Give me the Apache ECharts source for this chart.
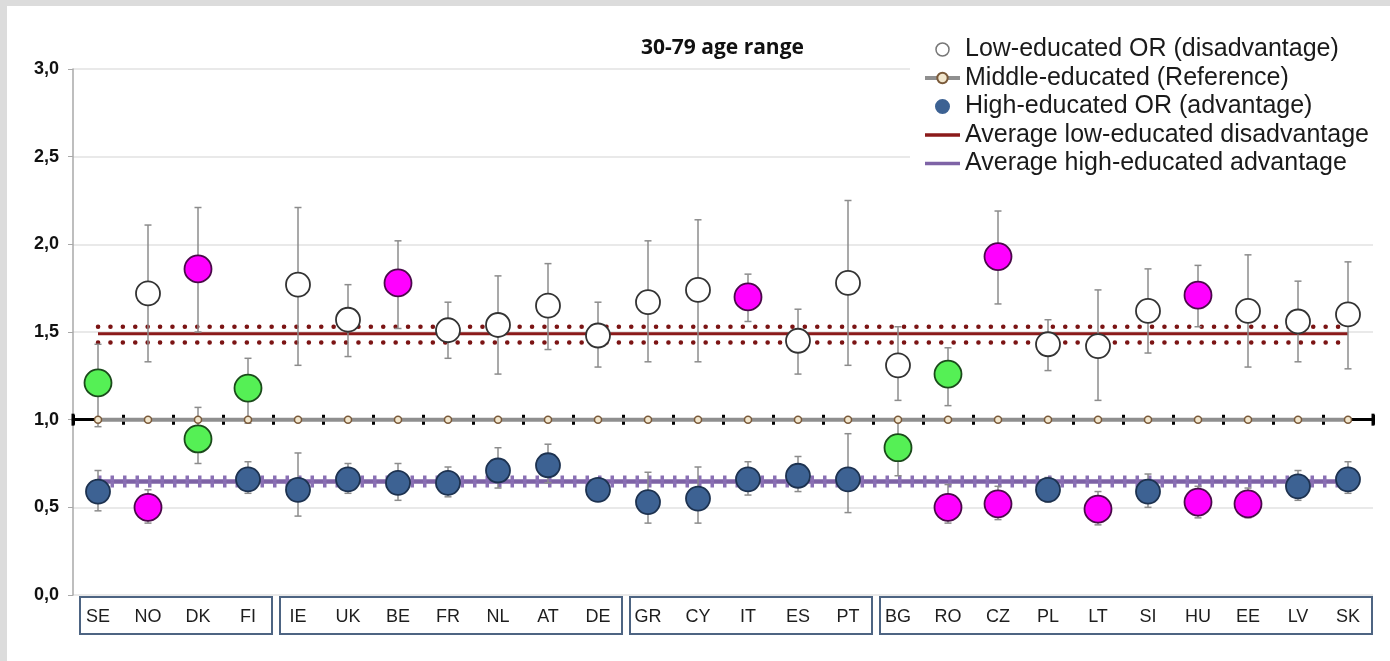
<!DOCTYPE html>
<html>
<head>
<meta charset="utf-8">
<script src="https://cdn.jsdelivr.net/npm/echarts@6/dist/echarts.min.js"></script>
<style>
html, body { margin: 0; padding: 0; background: #dcdcdc; }
#chart { position: absolute; left: 7px; top: 6px; width: 1383px; height: 655px; background: #fff; }
</style>
</head>
<body>
<div id="chart"></div>
<script>
const countries = ['SE', 'NO', 'DK', 'FI', 'IE', 'UK', 'BE', 'FR', 'NL', 'AT', 'DE', 'GR', 'CY', 'IT', 'ES', 'PT', 'BG', 'RO', 'CZ', 'PL', 'LT', 'SI', 'HU', 'EE', 'LV', 'SK']
// country blocks boxed under the axis: nordic, continental, southern, eastern
const groupSizes = [4, 7, 5, 10]

const lowOR = [1.21, 1.72, 1.86, 1.18, 1.77, 1.57, 1.78, 1.51, 1.54, 1.65, 1.48, 1.67, 1.74, 1.70, 1.45, 1.78, 1.31, 1.26, 1.93, 1.43, 1.42, 1.62, 1.71, 1.62, 1.56, 1.60]
const lowLo = [0.96, 1.33, 1.50, 0.98, 1.31, 1.36, 1.52, 1.35, 1.26, 1.40, 1.30, 1.33, 1.33, 1.56, 1.26, 1.31, 1.11, 1.08, 1.66, 1.28, 1.11, 1.38, 1.53, 1.30, 1.33, 1.29]
const lowHi = [1.43, 2.11, 2.21, 1.35, 2.21, 1.77, 2.02, 1.67, 1.82, 1.89, 1.67, 2.02, 2.14, 1.83, 1.63, 2.25, 1.53, 1.41, 2.19, 1.57, 1.74, 1.86, 1.88, 1.94, 1.79, 1.90]
// 'sig' = stands out from the average, 'ns' = not significant
const lowFlag = ['ns', '', 'sig', 'ns', '', '', 'sig', '', '', '', '', '', '', 'sig', '', '', '', 'ns', 'sig', '', '', '', 'sig', '', '', '']

const highOR = [0.59, 0.50, 0.89, 0.66, 0.60, 0.66, 0.64, 0.64, 0.71, 0.74, 0.60, 0.53, 0.55, 0.66, 0.68, 0.66, 0.84, 0.50, 0.52, 0.60, 0.49, 0.59, 0.53, 0.52, 0.62, 0.66]
const highLo = [0.48, 0.41, 0.75, 0.58, 0.45, 0.58, 0.54, 0.56, 0.61, 0.64, 0.55, 0.41, 0.41, 0.57, 0.59, 0.47, 0.68, 0.41, 0.43, 0.53, 0.40, 0.50, 0.44, 0.44, 0.54, 0.58]
const highHi = [0.71, 0.60, 1.07, 0.76, 0.81, 0.75, 0.75, 0.73, 0.84, 0.86, 0.66, 0.70, 0.73, 0.76, 0.79, 0.92, 1.00, 0.63, 0.62, 0.67, 0.59, 0.69, 0.62, 0.61, 0.71, 0.76]
const highFlag = ['', 'sig', 'ns', '', '', '', '', '', '', '', '', '', '', '', '', '', 'ns', 'sig', 'sig', '', 'sig', '', 'sig', 'sig', '', '']

const refOR = [1, 1, 1, 1, 1, 1, 1, 1, 1, 1, 1, 1, 1, 1, 1, 1, 1, 1, 1, 1, 1, 1, 1, 1, 1, 1]

const avgLow = 1.49
const avgLowCI = [1.44, 1.53]
const avgHigh = 0.647
const avgHighCI = [0.63, 0.664]

const yTicks = [0, 0.5, 1, 1.5, 2, 2.5, 3]

const chart = echarts.init(document.getElementById('chart'))

const FONT = 'Liberation Sans, Arial, sans-serif'
const SIG = { color: '#ff00ff', borderColor: '#4a0a4a' }
const NS = { color: '#55f055', borderColor: '#1b4a1b' }

function pointItem(v, flag) {
  if (flag === 'sig')
    return { value: v, symbolSize: 27, itemStyle: SIG }
  if (flag === 'ns')
    return { value: v, symbolSize: 27, itemStyle: NS }
  return v
}

function errorBar(params, api) {
  const top = api.coord([api.value(0), api.value(2)])
  const bot = api.coord([api.value(0), api.value(1)])
  const cap = 3.5
  const style = { stroke: '#8c8c8c', lineWidth: 1.5 }
  return {
    type: 'group',
    children: [
      { type: 'line', shape: { x1: top[0], y1: top[1], x2: bot[0], y2: bot[1] }, style },
      { type: 'line', shape: { x1: top[0] - cap, y1: top[1], x2: top[0] + cap, y2: top[1] }, style },
      { type: 'line', shape: { x1: bot[0] - cap, y1: bot[1], x2: bot[0] + cap, y2: bot[1] }, style },
    ],
  }
}

const first = countries[0]
const last = countries[countries.length - 1]
const flatLine = v => [[first, v], [last, v]]

chart.setOption({
  animation: false,
  title: {
    text: '30-79 age range',
    left: 634,
    top: 32,
    padding: 0,
    textStyle: { fontFamily: 'Open Sans', fontWeight: 'bold', fontSize: 21, color: '#111' },
  },
  legend: {
    left: 903,
    top: 25,
    orient: 'vertical',
    padding: [6, 30, 6, 13],
    backgroundColor: '#fff',
    itemWidth: 35,
    itemHeight: 13,
    itemGap: 3.5,
    selectedMode: false,
    textStyle: { fontFamily: FONT, fontSize: 25, lineHeight: 25, color: '#1a1a1a' },
    data: [
      { name: 'Low-educated OR (disadvantage)', itemStyle: { borderColor: '#777', borderWidth: 1.5 } },
      { name: 'Middle-educated (Reference)', lineStyle: { width: 4 } },
      { name: 'High-educated OR (advantage)', itemStyle: { borderColor: '#3d6293' } },
      { name: 'Average low-educated disadvantage', itemStyle: { opacity: 0 }, lineStyle: { width: 3.5 } },
      { name: 'Average high-educated advantage', itemStyle: { opacity: 0 }, lineStyle: { width: 3.5 } },
    ],
  },
  grid: { left: 66, right: 17, top: 63, bottom: 66 },
  xAxis: [
    {
      type: 'category',
      data: countries,
      axisLine: { show: false },
      axisTick: { show: false },
      axisLabel: { margin: 13, fontFamily: FONT, fontSize: 18, color: '#1e1e1e' },
    },
    {
      // the category axis crosses the value axis at 1,0
      type: 'category',
      data: countries,
      position: 'bottom',
      axisLine: {
        onZero: true,
        onZeroAxisIndex: 1,
        symbol: ['rect', 'rect'],
        symbolSize: [12, 3],
        lineStyle: { color: '#000', width: 3 },
      },
      axisTick: { show: true, length: 5, lineStyle: { color: '#000', width: 3 } },
      axisLabel: { show: false },
    },
    {
      type: 'category',
      data: countries,
      position: 'top',
      axisLine: { show: false, onZero: true, onZeroAxisIndex: 1 },
      axisTick: { show: true, length: 5, lineStyle: { color: '#000', width: 3 } },
      axisLabel: { show: false },
    },
  ],
  yAxis: [
    {
      type: 'value',
      min: yTicks[0],
      max: yTicks[yTicks.length - 1],
      interval: 0.5,
      axisLine: { show: true, lineStyle: { color: '#a8a8a8', width: 1.5 } },
      axisTick: { show: true, length: 5, lineStyle: { color: '#a8a8a8' } },
      axisLabel: {
        margin: 14,
        fontFamily: FONT,
        fontSize: 18,
        fontWeight: 'bold',
        color: '#111',
        formatter: v => v.toFixed(1).replace('.', ','),
      },
      splitLine: { lineStyle: { color: '#e2e2e2', width: 1.5 } },
    },
    { type: 'value', min: -1, max: 2, show: false },
  ],
  series: [
    {
      name: 'Average low-educated disadvantage',
      type: 'line',
      z: 2,
      symbol: 'none',
      data: flatLine(avgLow),
      itemStyle: { color: '#8b1a1a' },
      lineStyle: { color: '#8b1a1a', width: 3 },
    },
    ...avgLowCI.map(v => ({
      type: 'line',
      z: 2,
      symbol: 'none',
      data: flatLine(v),
      lineStyle: { color: '#7b1414', width: 4.5, type: [0.1, 12.3], cap: 'round' },
    })),
    {
      name: 'Average high-educated advantage',
      type: 'line',
      z: 2,
      symbol: 'none',
      data: flatLine(avgHigh),
      itemStyle: { color: '#7e63a6' },
      lineStyle: { color: '#7e63a6', width: 4.5 },
    },
    ...avgHighCI.map(v => ({
      type: 'line',
      z: 2,
      symbol: 'none',
      data: flatLine(v),
      lineStyle: { color: '#8a70b4', width: 6, type: [3.5, 9] },
    })),
    {
      type: 'custom',
      z: 3,
      renderItem: errorBar,
      encode: { x: 0, y: [1, 2] },
      data: countries.map((c, i) => [i, lowLo[i], lowHi[i]]),
    },
    {
      type: 'custom',
      z: 3,
      renderItem: errorBar,
      encode: { x: 0, y: [1, 2] },
      data: countries.map((c, i) => [i, highLo[i], highHi[i]]),
    },
    {
      name: 'Middle-educated (Reference)',
      type: 'line',
      z: 4,
      symbol: 'circle',
      symbolSize: 7,
      data: refOR,
      lineStyle: { color: '#8f8f8f', width: 4 },
      itemStyle: { color: '#f1e6cd', borderColor: '#7a5a3a', borderWidth: 1.5 },
    },
    {
      name: 'Low-educated OR (disadvantage)',
      type: 'scatter',
      z: 5,
      symbolSize: 24,
      data: lowOR.map((v, i) => pointItem(v, lowFlag[i])),
      itemStyle: { color: '#fff', borderColor: '#333', borderWidth: 1.8, opacity: 1 },
    },
    {
      name: 'High-educated OR (advantage)',
      type: 'scatter',
      z: 5,
      symbolSize: 24,
      data: highOR.map((v, i) => pointItem(v, highFlag[i])),
      itemStyle: { color: '#3d6293', borderColor: '#1d3250', borderWidth: 1.8, opacity: 1 },
    },
  ],
})

// boxes round the country blocks, placed from the axis scale
const px = i => chart.convertToPixel({ xAxisIndex: 0 }, i)
const half = (px(1) - px(0)) / 2
const y0 = chart.convertToPixel({ yAxisIndex: 0 }, 0)
const boxes = []
let start = 0
groupSizes.forEach((n) => {
  const end = start + n - 1
  const x0 = px(start) - half + 7
  const x1 = px(end) + half - 1
  boxes.push({
    type: 'rect',
    shape: { x: x0, y: y0 + 2, width: x1 - x0, height: 37 },
    style: { fill: 'none', stroke: '#4d6482', lineWidth: 2 },
  })
  start = end + 1
})
chart.setOption({ graphic: boxes })
</script>
</body>
</html>
